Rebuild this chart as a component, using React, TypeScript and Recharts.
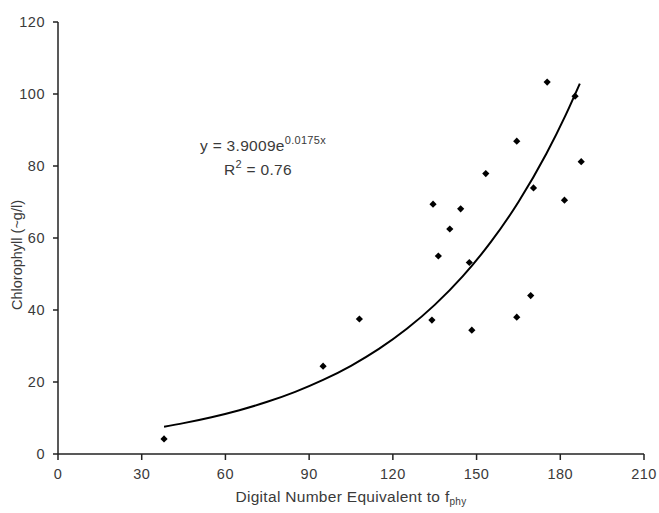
import React from "react";
import {
  ComposedChart,
  Scatter,
  Line,
  XAxis,
  YAxis,
  Label,
  Customized,
} from "recharts";

// Observed data points (digital number vs chlorophyll)
const dnValues = [38, 95, 108, 134, 134.4, 136.3, 140.4, 144.3, 147.4, 148.3, 153.3, 164.4, 164.4, 169.4, 170.4, 175.3, 181.5, 187.5, 185.3];
const chlValues = [4.2, 24.4, 37.5, 37.2, 69.4, 55, 62.5, 68.1, 53.2, 34.4, 77.9, 86.9, 38, 44, 73.9, 103.3, 70.5, 81.2, 99.4];

// Trendline as printed on the chart: y = 3.9009 e^(0.0175x)
const trendA = 3.9009;
const trendB = 0.0175;
const trendX = [38, 45, 55, 65, 75, 85, 95, 105, 115, 125, 135, 145, 155, 165, 175, 182, 187];

const xTicks = [0, 30, 60, 90, 120, 150, 180, 210];
const yTicks = [0, 20, 40, 60, 80, 100, 120];

const scatterData = dnValues.map((x, i) => ({ x, y: chlValues[i] }));
const trendData = trendX.map((x) => ({ x, y: trendA * Math.exp(trendB * x) }));

const FONT = "'Liberation Sans', Arial, sans-serif";
const TEXT = "#3a3a3a";

const Diamond = (props: any) => {
  const { cx, cy } = props;
  if (cx == null || cy == null) return null;
  const r = 3.6;
  return (
    <polygon
      points={`${cx},${cy - r} ${cx + r},${cy} ${cx},${cy + r} ${cx - r},${cy}`}
      fill="#000"
    />
  );
};

const Equation = () => (
  <g fontFamily={FONT} fill={TEXT}>
    <text x={263} y={151} fontSize={15.5} textAnchor="middle" letterSpacing={0.3}>
      <tspan>y = 3.9009e</tspan>
      <tspan fontSize={11} dy={-7}>0.0175x</tspan>
    </text>
    <text x={258} y={175} fontSize={15.5} textAnchor="middle" letterSpacing={0.3}>
      <tspan>R</tspan>
      <tspan fontSize={11} dy={-7}>2</tspan>
      <tspan dy={7}> = 0.76</tspan>
    </text>
  </g>
);

const XLabel = (props: any) => {
  const vb = props.viewBox || {};
  const cx = vb.x + vb.width / 2;
  return (
    <text x={cx} y={502} textAnchor="middle" fontFamily={FONT} fontSize={15.5} letterSpacing={0.3} fill={TEXT}>
      <tspan>Digital Number Equivalent to f</tspan>
      <tspan fontSize={10} dy={3}>phy</tspan>
    </text>
  );
};

const YLabel = (props: any) => {
  const vb = props.viewBox || {};
  const x = 22;
  const y = vb.y + vb.height / 2 + 17;
  return (
    <text
      x={x}
      y={y}
      textAnchor="middle"
      transform={`rotate(-90, ${x}, ${y})`}
      fontFamily={FONT}
      fontSize={14.5}
      fill={TEXT}
    >
      Chlorophyll (~g/l)
    </text>
  );
};

export default function App() {
  return (
    <div style={{ position: "absolute", left: 0, top: 0, background: "#fff" }}>
      <ComposedChart
        width={659}
        height={513}
        margin={{ top: 22, right: 15, bottom: 19, left: 10 }}
      >
        <XAxis
          type="number"
          dataKey="x"
          domain={[0, 210]}
          ticks={xTicks}
          allowDataOverflow
          height={40}
          tickSize={6}
          tickMargin={9}
          stroke="#222"
          strokeWidth={1.5}
          tick={{ fontFamily: FONT, fontSize: 14.5, fill: TEXT, letterSpacing: 0.5 }}
          tickLine={{ stroke: "#222" }}
        >
          <Label content={<XLabel />} />
        </XAxis>
        <YAxis
          type="number"
          dataKey="y"
          domain={[0, 120]}
          ticks={yTicks}
          width={48}
          tickSize={5}
          tickMargin={8}
          stroke="#222"
          strokeWidth={1.5}
          tick={{ fontFamily: FONT, fontSize: 14.5, fill: TEXT, letterSpacing: 0.5 }}
          tickLine={{ stroke: "#222" }}
        >
          <Label content={<YLabel />} />
        </YAxis>
        <Scatter
          data={scatterData}
          dataKey="y"
          shape={<Diamond />}
          isAnimationActive={false}
        />
        <Line
          data={trendData}
          dataKey="y"
          type="monotone"
          stroke="#000"
          strokeWidth={2}
          dot={false}
          activeDot={false}
          isAnimationActive={false}
        />
        <Customized component={<Equation />} />
      </ComposedChart>
    </div>
  );
}
